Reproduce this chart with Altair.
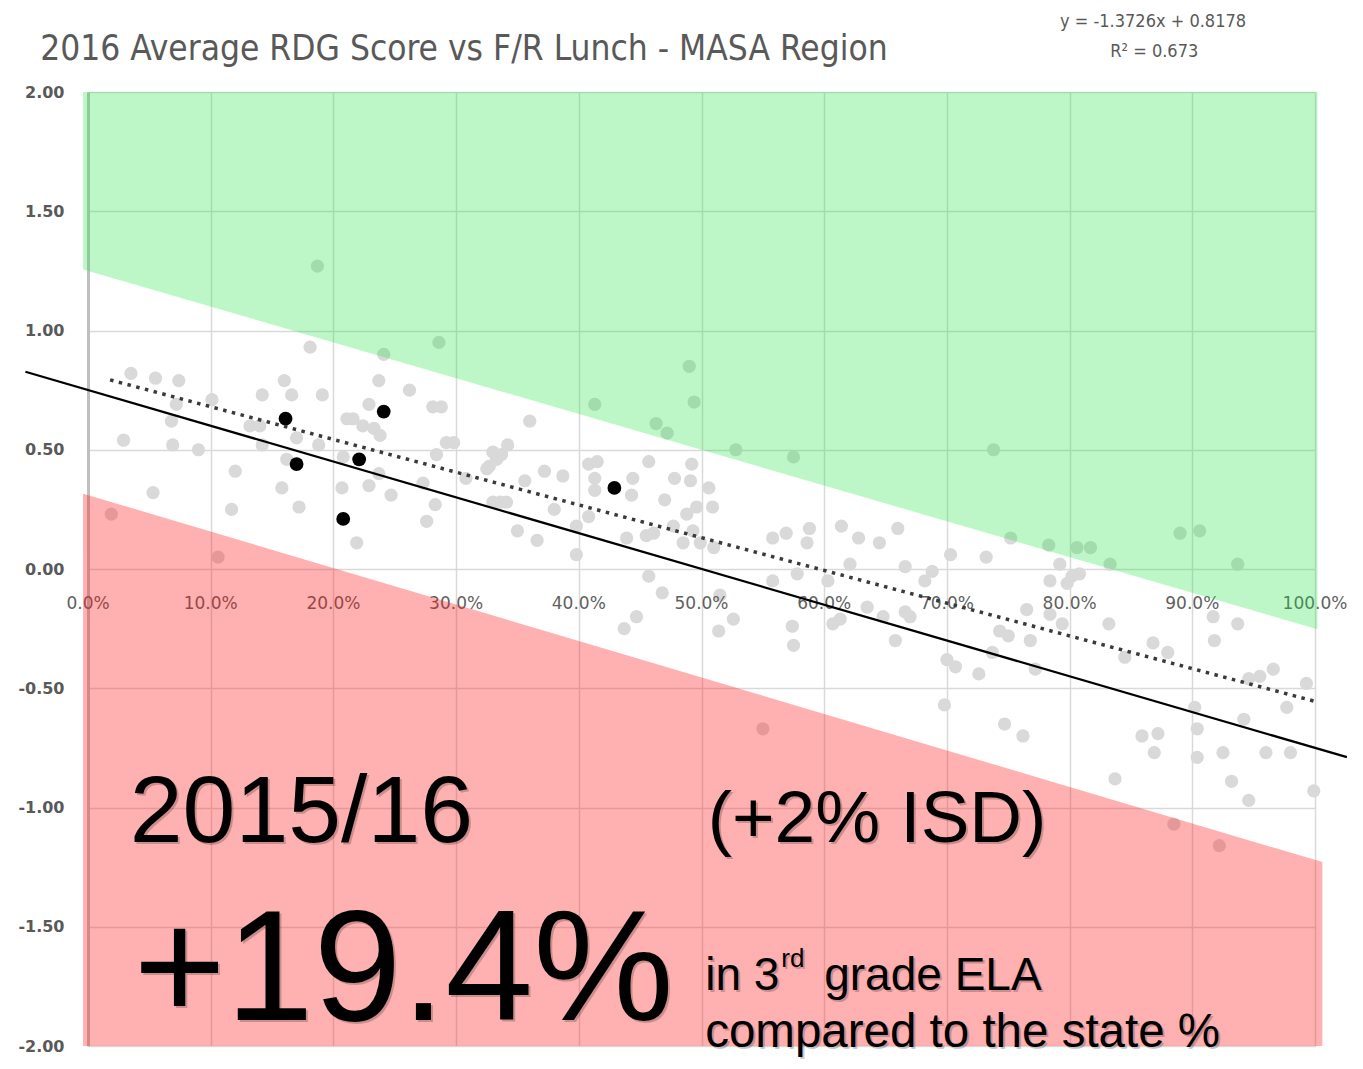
import altair as alt
import pandas as pd

# ---------------- data ----------------
# gray points: F/R lunch % (x) and average RDG score (y)
gray_x = [18.7, 18.1, 24.1, 28.6, 3.5, 5.5, 7.4, 16.0, 23.7, 14.2, 16.6, 19.1, 26.2, 10.1, 7.2, 22.9,
          28.1, 28.8, 6.8, 21.1, 21.6, 13.2, 14.0, 22.4, 23.3, 23.8, 17.0, 2.9, 6.9, 9.0, 14.2, 18.8,
          29.2, 29.8, 28.4, 33.0, 32.5, 16.2, 20.8, 12.0, 23.7, 27.3, 22.9, 15.8, 20.7, 24.7, 5.3, 30.8,
          28.3, 33.0, 11.7, 17.2, 27.6, 21.9, 1.9, 49.0, 49.4, 41.3, 46.3, 47.2, 52.8, 57.5, 36.0, 32.7,
          33.3, 33.7, 34.2, 40.8, 41.5, 45.7, 49.2, 37.2, 38.7, 35.6, 41.3, 44.4, 47.8, 49.1, 50.6, 41.3,
          44.3, 47.0, 33.6, 34.1, 38.0, 49.6, 48.8, 50.9, 40.8, 39.8, 35.0, 36.6, 43.9, 45.5, 46.1, 47.7,
          49.3, 48.5, 49.9, 55.8, 56.9, 58.8, 58.6, 61.4, 62.8, 64.5, 66.0, 73.8, 75.2, 78.3, 80.6, 81.7,
          89.0, 90.6, 10.6, 39.8, 45.7, 46.8, 44.7, 43.7, 51.5, 52.6, 51.4, 57.4, 57.5, 55.8, 57.8, 55.0,
          60.7, 61.3, 62.1, 60.3, 63.5, 64.8, 65.8, 51.0, 70.3, 73.2, 66.6, 68.8, 68.2, 67.0, 66.6, 70.0,
          70.7, 72.6, 69.8, 73.7, 74.7, 76.2, 74.3, 75.0, 76.5, 76.8, 77.2, 78.4, 79.2, 79.8, 80.2, 80.8,
          78.4, 79.4, 83.2, 84.5, 86.8, 88.0, 85.9, 87.2, 86.9, 83.7, 91.7, 91.8, 93.7, 90.2, 90.4, 90.4,
          92.5, 94.2, 94.6, 95.5, 96.6, 97.7, 99.3, 96.0, 98.0, 93.2, 94.6, 99.9, 88.5, 92.2, 93.7, 83.3]
gray_y = [1.27, 0.93, 0.90, 0.95, 0.82, 0.80, 0.79, 0.79, 0.79, 0.73, 0.73, 0.73, 0.75, 0.71, 0.69, 0.69,
          0.68, 0.68, 0.62, 0.63, 0.63, 0.60, 0.60, 0.60, 0.59, 0.56, 0.55, 0.54, 0.52, 0.50, 0.52, 0.52,
          0.53, 0.53, 0.48, 0.49, 0.42, 0.46, 0.47, 0.41, 0.40, 0.36, 0.35, 0.34, 0.34, 0.31, 0.32, 0.38,
          0.27, 0.28, 0.25, 0.26, 0.20, 0.11, 0.23, 0.85, 0.70, 0.69, 0.61, 0.57, 0.50, 0.47, 0.62, 0.43,
          0.46, 0.48, 0.52, 0.44, 0.45, 0.45, 0.44, 0.41, 0.39, 0.37, 0.38, 0.38, 0.38, 0.37, 0.34, 0.33,
          0.31, 0.29, 0.28, 0.28, 0.25, 0.26, 0.23, 0.26, 0.22, 0.18, 0.16, 0.12, 0.13, 0.14, 0.15, 0.18,
          0.16, 0.11, 0.11, 0.13, 0.15, 0.17, 0.11, 0.18, 0.13, 0.11, 0.17, 0.50, 0.13, 0.10, 0.09, 0.09,
          0.15, 0.16, 0.05, 0.06, -0.03, -0.10, -0.20, -0.25, -0.11, -0.21, -0.26, -0.24, -0.32, -0.05, -0.02, -0.67,
          -0.23, -0.21, 0.02, -0.05, -0.16, -0.20, -0.30, 0.09, 0.06, 0.05, 0.01, -0.01, -0.05, -0.20, -0.18, -0.38,
          -0.41, -0.44, -0.57, -0.35, -0.65, -0.70, -0.26, -0.28, -0.17, -0.30, -0.42, -0.05, 0.02, -0.06, -0.03, -0.02,
          -0.19, -0.23, -0.23, -0.37, -0.31, -0.35, -0.70, -0.69, -0.77, -0.88, -0.20, -0.30, -0.23, -0.58, -0.67, -0.79,
          -0.77, -0.63, -0.46, -0.45, -0.42, -0.58, -0.48, -0.77, -0.77, -0.89, -0.97, -0.93, -1.07, -1.16, 0.02, 0.02]

# highlighted (black) points
black_x = [16.1, 24.1, 17.0, 22.1, 20.8, 42.9]
black_y = [0.63, 0.66, 0.44, 0.46, 0.21, 0.34]

# solid reference line and dotted Excel trendline (end points)
solid_x = [-5.1, 102.6]
solid_y = [0.827, -0.789]
trend_x = [1.8, 100.0]
trend_y = [0.793, -0.555]

# shaded bands (end points of the sloped edges)
green_x = [-0.4, 100.2]
green_top = [2.0, 2.0]
green_bottom = [1.256, -0.253]
red_x = [-0.4, 100.6]
red_top = [0.316, -1.229]
red_bottom = [-2.0, -2.0]

x_ticks = [0, 10, 20, 30, 40, 50, 60, 70, 80, 90, 100]
x_tick_labels = ["0.0%", "10.0%", "20.0%", "30.0%", "40.0%", "50.0%", "60.0%", "70.0%",
                 "80.0%", "90.0%", "100.0%"]
y_ticks = [-2.0, -1.5, -1.0, -0.5, 0.0, 0.5, 1.0, 1.5, 2.0]

title_text = "2016 Average RDG Score vs F/R Lunch - MASA Region"
eq_lines = ["y = -1.3726x + 0.8178", "R² = 0.673"]

# ---------------- chart ----------------
W, H = 1227, 954
xs = alt.Scale(domain=[0, 100], nice=False, zero=False)
ys = alt.Scale(domain=[-2, 2], nice=False, zero=False)
x_axis = alt.Axis(values=x_ticks, labels=False, ticks=False, domain=False, grid=True,
                  gridColor="#d9d9d9", gridWidth=1.5, title=None)
y_axis = alt.Axis(values=y_ticks, ticks=False, domain=True, domainColor="#bfbfbf",
                  labelExpr="replace(format(datum.value, '.2f'), '\u2212', '-')",
                  domainWidth=3, grid=True, gridColor="#d9d9d9", gridWidth=1.5, title=None,
                  labelFont="DejaVu Sans", labelFontSize=16, labelFontWeight="bold",
                  labelColor="#595959", labelPadding=24)


def X(f):
    return alt.X(f, type="quantitative", scale=xs, axis=x_axis)


def Y(f):
    return alt.Y(f, type="quantitative", scale=ys, axis=y_axis)


gray_df = pd.DataFrame({"x": gray_x, "y": gray_y})
black_df = pd.DataFrame({"x": black_x, "y": black_y})
gray_pts = alt.Chart(gray_df).mark_circle(size=175, color="#d9d9d9", opacity=1).encode(x=X("x"), y=Y("y"))
black_pts = alt.Chart(black_df).mark_circle(size=190, color="#000000", opacity=1).encode(x=X("x"), y=Y("y"))

xlab_df = pd.DataFrame({"x": x_ticks, "y": [-0.147] * len(x_ticks), "t": x_tick_labels})
xlabels = alt.Chart(xlab_df).mark_text(font="DejaVu Sans", fontSize=17, color="#5f5f5f",
                                       align="center", baseline="middle").encode(
    x=X("x"), y=Y("y"), text="t:N")

green_df = pd.DataFrame({"x": green_x, "top": green_top, "bot": green_bottom})
red_df = pd.DataFrame({"x": red_x, "top": red_top, "bot": red_bottom})
green_band = alt.Chart(green_df).mark_area(color="#26e448", opacity=0.3).encode(
    x=X("x"), y=Y("top"), y2="bot")
red_band = alt.Chart(red_df).mark_area(color="#ff1d1d", opacity=0.35).encode(
    x=X("x"), y=Y("top"), y2="bot")

solid_df = pd.DataFrame({"x": solid_x, "y": solid_y})
trend_df = pd.DataFrame({"x": trend_x, "y": trend_y})
solid_line = alt.Chart(solid_df).mark_line(color="#000000", strokeWidth=2.2).encode(x=X("x"), y=Y("y"))
trend_line = alt.Chart(trend_df).mark_line(color="#3a3a3a", strokeWidth=3.5,
                                           strokeDash=[3.5, 5.5]).encode(x=X("x"), y=Y("y"))

# title and equation
title_df = pd.DataFrame({"x": [-3.9], "y": [2.134], "t": [title_text]})
title = alt.Chart(title_df).mark_text(font="Liberation Sans Narrow, DejaVu Sans Condensed, Liberation Sans",
                                      fontSize=35, color="#595959", align="left",
                                      baseline="alphabetic").encode(x=X("x"), y=Y("y"), text="t:N")
eq_df = pd.DataFrame({"x": [86.8, 86.9], "y": [2.295, 2.168], "t": eq_lines})
eq = alt.Chart(eq_df).mark_text(font="Liberation Sans Narrow, DejaVu Sans Condensed, Liberation Sans",
                                fontSize=18, color="#595959", align="center",
                                baseline="middle").encode(x=X("x"), y=Y("y"), text="t:N")

# big overlay annotations (text, x %, baseline y, font size)
ann_text = ["2015/16", "(+2% ISD)", "+19.4%", "in 3", "rd", "grade ELA", "compared to the state %"]
ann_x = [3.4, 50.5, 3.7, 50.3, 56.5, 60.0, 50.3]
ann_y = [-1.145, -1.145, -1.89, -1.765, -1.67, -1.765, -2.003]
ann_size = [95, 73, 158, 46, 26, 46, 47.5]

layers = [gray_pts, xlabels, red_band, green_band, black_pts, solid_line, trend_line, title, eq]
for t, ax, ay, fs in zip(ann_text, ann_x, ann_y, ann_size):
    d = pd.DataFrame({"x": [ax], "y": [ay], "t": [t]})
    shadow = alt.Chart(d).mark_text(font="Liberation Sans", fontSize=fs, color="#000000", opacity=0.2,
                                    align="left", baseline="alphabetic", dx=2, dy=2).encode(
        x=X("x"), y=Y("y"), text="t:N")
    txt = alt.Chart(d).mark_text(font="Liberation Sans", fontSize=fs, color="#000000",
                                 align="left", baseline="alphabetic").encode(
        x=X("x"), y=Y("y"), text="t:N")
    layers += [shadow, txt]

chart = alt.layer(*layers).properties(
    width=W, height=H,
    autosize=alt.AutoSizeParams(type="none"),
    padding={"left": 80, "top": 84, "right": 40, "bottom": 15},
    background="white",
).configure_view(stroke=None)

chart.save("out.html", embed_options={"renderer": "svg", "actions": False})
